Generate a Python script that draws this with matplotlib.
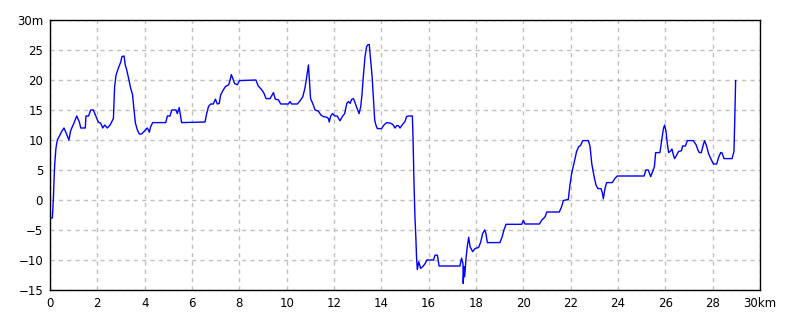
import numpy as np
import matplotlib.pyplot as plt

# distance (km) and elevation (m) read from the profile
dist_km = [0.0, 0.1, 0.14, 0.17, 0.2, 0.25, 0.31, 0.39, 0.49, 0.59, 0.70, 0.80, 0.87, 0.92,
           1.01, 1.13, 1.24, 1.30, 1.49, 1.52, 1.63, 1.72, 1.83, 2.04, 2.14, 2.23, 2.31,
           2.42, 2.54, 2.68, 2.73, 2.79, 2.89, 2.99, 3.04, 3.13, 3.18, 3.24, 3.32, 3.41,
           3.49, 3.55, 3.61, 3.69, 3.77, 3.87, 3.97, 4.11, 4.20, 4.25, 4.34, 4.89, 4.96,
           5.07, 5.15, 5.32, 5.38, 5.46, 5.56, 6.55, 6.62, 6.70, 6.79, 6.90, 6.99, 7.07,
           7.15, 7.21, 7.30, 7.41, 7.55, 7.61, 7.66, 7.72, 7.80, 7.92, 8.0, 8.70, 8.80,
           8.94, 9.04, 9.13, 9.30, 9.44, 9.52, 9.65, 9.75, 10.07, 10.14, 10.21, 10.45,
           10.56, 10.68, 10.77, 10.85, 10.92, 10.96, 11.01, 11.10, 11.2, 11.34, 11.44,
           11.55, 11.69, 11.76, 11.80, 11.86, 11.94, 12.03, 12.14, 12.25, 12.37, 12.45,
           12.54, 12.61, 12.68, 12.75, 12.82, 12.90, 12.99, 13.06, 13.13, 13.18, 13.24,
           13.31, 13.38, 13.44, 13.49, 13.55, 13.61, 13.66, 13.72, 13.77, 13.83, 14.01,
           14.11, 14.23, 14.39, 14.48, 14.58, 14.65, 14.72, 14.79, 14.90, 15.0, 15.07,
           15.14, 15.31, 15.34, 15.38, 15.42, 15.46, 15.49, 15.52, 15.58, 15.66, 15.75,
           15.85, 15.92, 16.20, 16.27, 16.37, 16.44, 17.32, 17.39, 17.45, 17.46, 17.49,
           17.52, 17.58, 17.63, 17.69, 17.75, 17.86, 17.96, 18.11, 18.20, 18.28, 18.37,
           18.42, 18.48, 19.01, 19.10, 19.18, 19.27, 19.93, 20.0, 20.07, 20.68, 20.77,
           20.92, 20.99, 21.52, 21.62, 21.69, 21.90, 21.97, 22.04, 22.14, 22.25, 22.34,
           22.42, 22.51, 22.75, 22.82, 22.89, 22.99, 23.07, 23.15, 23.28, 23.34, 23.38,
           23.45, 23.52, 23.76, 23.87, 23.97, 25.1, 25.18, 25.28, 25.38, 25.46, 25.54,
           25.59, 25.77, 25.85, 25.92, 25.97, 26.03, 26.08, 26.14, 26.23, 26.28, 26.34,
           26.39, 26.48, 26.56, 26.68, 26.73, 26.85, 26.93, 27.18, 27.3, 27.38, 27.44,
           27.52, 27.61, 27.66, 27.75, 27.83, 27.92, 28.03, 28.17, 28.25, 28.34, 28.39,
           28.48, 28.82, 28.90, 28.94, 28.97]
elev_m = [-3.0, -3.0, 0.0, 3.3, 6.0, 8.6, 10.0, 10.6, 11.4, 12.0, 11.0, 10.0, 11.5, 12.0,
          12.8, 14.0, 13.0, 12.0, 12.0, 14.0, 14.0, 15.0, 15.0, 13.0, 12.8, 12.0, 12.5,
          12.0, 12.5, 13.6, 18.9, 20.8, 22.0, 23.0, 23.9, 24.0, 22.5, 21.7, 20.3, 18.6,
          17.5, 15.0, 12.8, 11.7, 11.0, 11.0, 11.4, 12.0, 11.3, 12.2, 12.9, 12.9, 14.0,
          14.0, 15.0, 15.0, 14.4, 15.4, 12.9, 13.0, 14.4, 15.6, 16.0, 16.0, 16.8, 16.0,
          16.1, 17.5, 18.2, 18.9, 19.2, 20.0, 20.9, 20.3, 19.4, 19.2, 19.9, 20.0, 19.0,
          18.4, 17.8, 16.9, 16.9, 17.9, 16.8, 16.7, 16.0, 16.0, 16.4, 16.0, 16.0,
          16.5, 17.2, 18.6, 20.6, 22.5, 20.0, 16.9, 16.1, 15.0, 14.8, 14.2,
          13.9, 13.8, 13.6, 13.0, 14.0, 14.4, 14.0, 14.0, 13.2, 14.0, 14.4,
          16.1, 16.4, 16.1, 16.8, 16.9, 16.1, 15.1, 14.4, 15.6, 17.5, 20.6,
          23.9, 25.6, 25.9, 25.9, 23.3, 20.6, 17.2, 13.3, 12.5, 11.9, 11.9,
          12.5, 12.9, 12.8, 12.6, 12.0, 12.4, 12.4, 12.0, 12.6, 13.1, 13.9,
          14.0, 14.0, 10.3, 2.9, -2.8, -6.4, -9.7, -11.6, -10.3, -11.4, -11.1,
          -10.6, -10.0, -10.0, -9.2, -9.2, -11.0, -11.0, -9.7, -10.6, -13.9, -11.1,
          -12.8, -9.7, -7.8, -6.2, -7.8, -8.6, -8.1, -7.9, -7.0, -5.6, -5.0,
          -5.6, -7.1, -7.1, -6.2, -5.0, -4.05, -4.05, -3.4, -4.0, -4.0, -3.4,
          -2.8, -2.0, -2.0, -1.1, -0.1, 0.1, 2.5, 4.4, 6.1, 8.1, 8.9,
          9.1, 9.9, 9.9, 8.9, 6.1, 3.9, 2.5, 1.9, 1.9, 1.2, 0.2,
          1.9, 2.9, 2.9, 3.6, 4.0, 4.0, 5.0, 5.0, 3.9, 4.7, 5.6,
          7.9, 7.9, 10.0, 11.9, 12.5, 11.4, 9.5, 7.9, 8.2, 8.5, 7.5,
          6.9, 7.5, 8.1, 8.2, 9.0, 9.0, 9.9, 9.9, 9.2, 8.3, 7.9,
          7.9, 9.3, 9.9, 8.9, 7.7, 6.9, 6.0, 6.0, 7.1, 7.9, 7.9,
          6.9, 6.9, 8.1, 14.4, 19.9]

x_ticks = np.arange(0, 31, 2)
x_labels = [str(v) for v in x_ticks[:-1]] + ['30km']
y_ticks = np.arange(-15, 31, 5)
y_labels = [str(v).replace('-', '\u2212') for v in y_ticks[:-1]] + ['30m']

fig = plt.figure(figsize=(8, 3.2), dpi=100)
ax = fig.add_axes([0.0625, 0.09375, 0.8875, 0.84375])

ax.plot(dist_km, elev_m, color='#0000ff', linewidth=1.0)

ax.set_xlim(0, 30)
ax.set_ylim(-15, 30)
ax.set_xticks(x_ticks)
ax.set_xticklabels(x_labels)
ax.set_yticks(y_ticks)
ax.set_yticklabels(y_labels)
ax.tick_params(length=0, labelsize=8.5, pad=5)
ax.grid(True, color='#c0c0c0', linestyle=(0, (3, 3)), linewidth=1.0)
for s in ax.spines.values():
    s.set_color('black')
    s.set_linewidth(1.0)

fig.savefig('out.png', dpi=100)
